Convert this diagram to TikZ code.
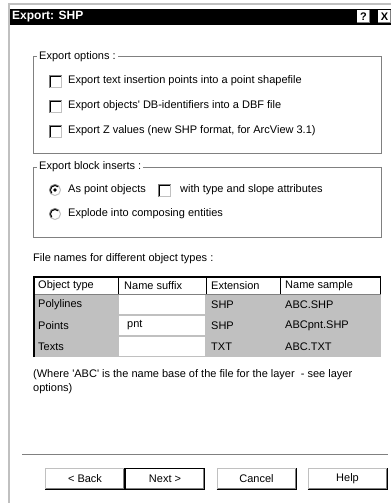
\documentclass[tikz,border=0pt]{standalone}
\usepackage{fontspec}
\setmainfont{Liberation Sans}
\usetikzlibrary{positioning}

\definecolor{winface}{HTML}{C0C0C0}
\definecolor{winshadow}{HTML}{808080}

\tikzset{
  wintext/.style={anchor=west, inner sep=0pt, font=\fontsize{11}{14}\selectfont},
  groupframe/.style={draw=winshadow, line width=1pt},
  grouptitle/.style={wintext, fill=white, inner xsep=2pt, inner ysep=1pt},
  chkbox/.style={minimum size=13pt, inner sep=0pt, outer sep=0pt, fill=white},
  radiobtn/.style={circle, minimum size=12pt, inner sep=0pt, outer sep=0pt, fill=white},
  capbtn/.style={minimum width=13pt, minimum height=13pt, inner sep=0pt, outer sep=0pt, fill=white,
    font=\fontsize{11}{13}\selectfont\bfseries},
  winbutton/.style={minimum width=80pt, minimum height=22pt, inner sep=0pt, outer sep=0pt, fill=white,
    font=\fontsize{11}{13}\selectfont},
}

\begin{document}
\begin{tikzpicture}[x=1pt, y=-1pt]
  \useasboundingbox[fill=white] (0,0) rectangle (391,503);

  % window frame and title bar
  \draw[winface, line width=2pt] (9,503) -- (9,4) -- (391,4);
  \fill[black] (10,9) rectangle (391,25);
  \node[wintext, white, font=\fontsize{12}{14}\selectfont\bfseries] (title) at (12,17) {Export: SHP};
  \node[capbtn] (helpbtn) at (363.5,16.5) {?};
  \node[capbtn] (closebtn) at (384.5,16.5) {X};
  \foreach \b in {helpbtn,closebtn}
    \draw[winshadow, line width=1pt] ([yshift=0.5pt]\b.south west) -| ([xshift=-0.5pt]\b.north east);

  % export options
  \draw[groupframe] (33,57) rectangle (381,153);
  \node[grouptitle] (optTitle) at (37,57) {Export options :};
  \node[chkbox] (cbText) at (55,81) {};
  \node[wintext] (lbText) at (68,81) {Export text insertion points into a point shapefile};
  \node[chkbox] (cbIdent) at (55,106) {};
  \node[wintext] (lbIdent) at (68,106) {Export objects\textquotesingle\ DB-identifiers into a DBF file};
  \node[chkbox] (cbZval) at (55,131) {};
  \node[wintext] (lbZval) at (68,131) {Export Z values (new SHP format, for ArcView 3.1)};

  % export block inserts
  \draw[groupframe] (33,167) rectangle (381,237);
  \node[grouptitle] (blkTitle) at (37,167) {Export block inserts :};
  \node[radiobtn] (rbPoint) at (55,190) {};
  \node[wintext] (lbPoint) at (68,190) {As point objects};
  \node[chkbox] (cbSlope) at (164,190) {};
  \node[wintext] (lbSlope) at (180,190) {with type and slope attributes};
  \node[radiobtn] (rbExpl) at (55,214) {};
  \node[wintext] (lbExpl) at (68,214) {Explode into composing entities};
  \fill[black] (rbPoint.center) circle (1.8pt);

  % sunken look of check boxes and radio buttons
  \foreach \b in {cbText,cbIdent,cbZval,cbSlope} {
    \draw[winface, line width=1pt] ([yshift=0.5pt]\b.south west) -| ([xshift=-0.5pt]\b.north east);
    \draw[winshadow, line width=1pt] ([xshift=0.5pt]\b.south west) |- ([yshift=-0.5pt]\b.north east);
    \draw[black, line width=1pt] ([xshift=1.5pt,yshift=1pt]\b.south west) |- ([xshift=-1pt,yshift=-1.5pt]\b.north east);
  }
  \foreach \r in {rbPoint,rbExpl} {
    \draw[winface, line width=1pt] ([shift={(225:5.5pt)}]\r.center) arc[start angle=225, end angle=405, radius=5.5pt];
    \draw[winshadow, line width=1pt] ([shift={(45:5.5pt)}]\r.center) arc[start angle=45, end angle=225, radius=5.5pt];
    \draw[black, line width=1pt] ([shift={(45:4.5pt)}]\r.center) arc[start angle=45, end angle=225, radius=4.5pt];
  }

  % file name table
  \node[wintext] (tblCap) at (33,259) {File names for different object types :};
  \fill[winface] (33,276) rectangle (381,357);
  \fill[white] (35,278) rectangle (381,294);
  \fill[white] (119,295) rectangle (205,314);
  \fill[white] (119,316) rectangle (205,335);
  \fill[white] (119,337) rectangle (205,356);
  \draw[black, line width=2pt] (34,357) -- (34,277) -- (381,277);
  \draw[black] (118,277) -- (118,294);
  \draw[black] (206.5,277) -- (206.5,294);
  \draw[black] (280,277) -- (280,294);
  \draw[black] (380.5,277) -- (380.5,294);
  \draw[winshadow] (35,294) -- (381,294);
  \node[wintext] (hObj) at (38,285.5) {Object type};
  \node[wintext] (hSuf) at (124,285.5) {Name suffix};
  \node[wintext] (hExt) at (211,285.5) {Extension};
  \node[wintext] (hSmp) at (285,285.5) {Name sample};
  \node[wintext] (rPoly) at (38,304.5) {Polylines};
  \node[wintext] (rPolyExt) at (211,304.5) {SHP};
  \node[wintext] (rPolySmp) at (285,304.5) {ABC.SHP};
  \node[wintext] (rPnt) at (38,325.5) {Points};
  \node[wintext] (rPntSuf) at (127,325.5) {pnt};
  \node[wintext] (rPntExt) at (211,325.5) {SHP};
  \node[wintext] (rPntSmp) at (285,325.5) {ABCpnt.SHP};
  \node[wintext] (rTxt) at (38,346.5) {Texts};
  \node[wintext] (rTxtExt) at (211,346.5) {TXT};
  \node[wintext] (rTxtSmp) at (285,346.5) {ABC.TXT};

  % note under the table
  \node[wintext, align=left] (note) at (33,382) {(Where \textquotesingle ABC\textquotesingle\ is the name base of the file for the layer\ \ - see layer\\options)};

  % wizard buttons
  \draw[winshadow] (22,454) -- (388,454);
  \node[winbutton] (btnBack) at (85,479) {< Back};
  \node[winbutton] (btnNext) at (165,479) {Next >};
  \node[winbutton] (btnCancel) at (256.5,479) {Cancel};
  \node[winbutton] (btnHelp) at (347.5,479) {Help};
  \foreach \b in {btnBack,btnNext,btnCancel,btnHelp} {
    \draw[winface, line width=1pt] ([xshift=0.5pt]\b.south west) |- ([yshift=-0.5pt]\b.north east);
    \draw[black, line width=1pt] ([yshift=0.5pt]\b.south west) -| ([xshift=-0.5pt]\b.north east);
    \draw[winshadow, line width=1pt] ([xshift=1pt,yshift=1.5pt]\b.south west) -| ([xshift=-1.5pt,yshift=-1pt]\b.north east);
  }
  \draw[black, line width=1pt] ([xshift=0.5pt,yshift=0.5pt]btnNext.south west) rectangle ([xshift=-0.5pt,yshift=-0.5pt]btnNext.north east);
\end{tikzpicture}
\end{document}
